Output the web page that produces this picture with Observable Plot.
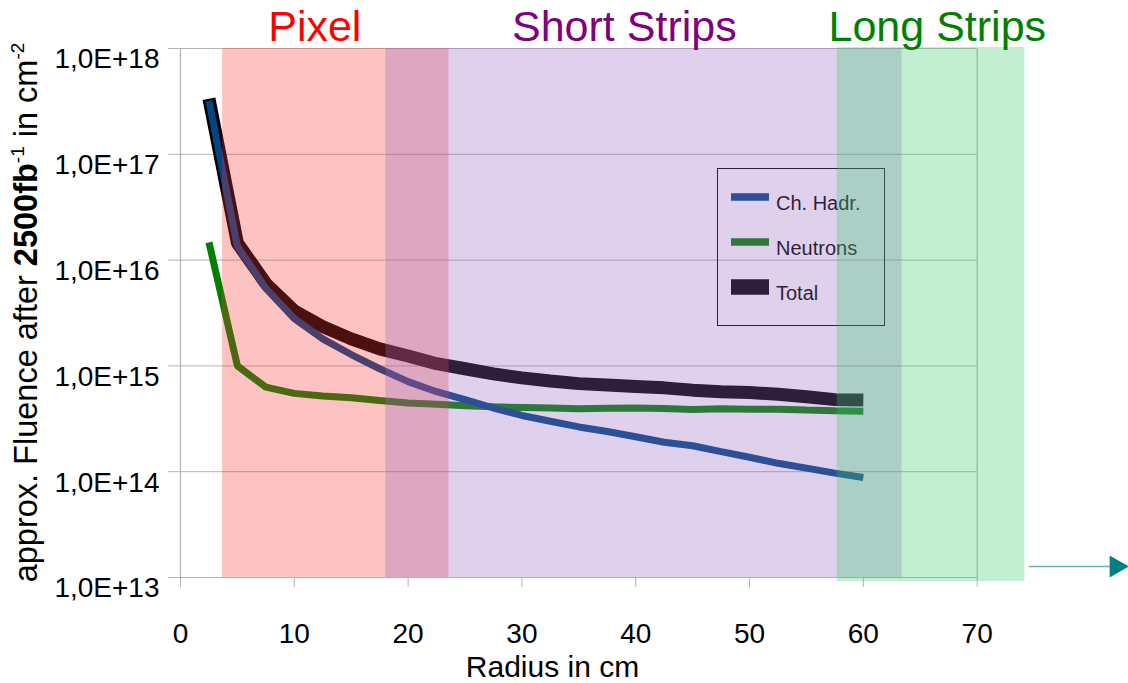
<!DOCTYPE html>
<html>
<head>
<meta charset="utf-8">
<script src="https://cdn.jsdelivr.net/npm/d3@7"></script>
<script src="https://cdn.jsdelivr.net/npm/@observablehq/plot@0.6"></script>
<style>
  html, body { margin: 0; padding: 0; background: #ffffff; }
  #chart { width: 1128px; height: 683px; }
</style>
</head>
<body>
<div id="chart"></div>
<script>
// Radial positions (cm) of the simulated points
const radius = [2.5, 5, 7.5, 10, 12.5, 15, 17.5, 20, 22.5, 25, 27.5, 30,
                32.5, 35, 37.5, 40, 42.5, 45, 47.5, 50, 52.5, 55, 57.5, 60];

// Approximate fluence (cm^-2) after 2500 fb^-1
const chHadr = [3.2e17, 1.35e16, 5.4e15, 2.8e15, 1.8e15, 1.28e15, 9.4e14, 7.1e14,
                5.7e14, 4.8e14, 4.0e14, 3.4e14, 3.0e14, 2.65e14, 2.4e14, 2.14e14,
                1.9e14, 1.76e14, 1.55e14, 1.37e14, 1.2e14, 1.08e14, 9.7e13, 8.8e13];
const neutrons = [1.47e16, 1.0e15, 6.3e14, 5.5e14, 5.2e14, 5.0e14, 4.7e14, 4.45e14,
                  4.35e14, 4.2e14, 4.1e14, 4.05e14, 4.0e14, 3.93e14, 3.97e14, 4.0e14,
                  3.95e14, 3.88e14, 3.93e14, 3.9e14, 3.9e14, 3.82e14, 3.77e14, 3.73e14];
const total = [3.35e17, 1.45e16, 6.0e15, 3.3e15, 2.35e15, 1.8e15, 1.45e15, 1.24e15,
               1.05e15, 9.4e14, 8.4e14, 7.7e14, 7.2e14, 6.8e14, 6.6e14, 6.4e14,
               6.2e14, 5.9e14, 5.7e14, 5.6e14, 5.4e14, 5.1e14, 4.8e14, 4.75e14];

const seriesNames  = ["Ch. Hadr.", "Neutrons", "Total"];
const seriesValues = [chHadr, neutrons, total];
const seriesColors = ["#004586", "#008000", "#000000"];
const seriesWidths = [7, 7, 13];

// Axis ticks
const xTicks = [0, 10, 20, 30, 40, 50, 60, 70];
const yTicks = [1e13, 1e14, 1e15, 1e16, 1e17, 1e18];
const xMax = 70;

// Detector regions (radial extent in cm)
const regionNames  = ["Pixel", "Short Strips", "Long Strips"];
const regionStart  = [3.7, 18.05, 57.7];
const regionEnd    = [23.6, 63.4, 74.2];
const regionLabelX = [11.8, 39.0, 66.5];
const regionFill   = ["rgb(247,53,53)", "rgb(150,103,193)", "rgb(52,198,105)"];
const regionText   = ["#ff0000", "#800080", "#008000"];

// "continues outward" arrow below the long-strip band
const arrowX = [74.6, 81.6];
const arrowHeadX = 82.2;
const arrowY = 1.27e13;

const font = "'Liberation Sans', Arial, sans-serif";

const rowsOf = vals => radius.map((r, i) => ({r, v: vals[i]}));

// Lines: Total underneath, then neutrons, charged hadrons on top
const lineOrder = [2, 1, 0];

const chart = Plot.plot({
  width: 1128,
  height: 683,
  marginLeft: 180,
  marginRight: 0,
  marginTop: 48,
  marginBottom: 106,
  style: {fontFamily: font, background: "#ffffff", overflow: "visible"},
  x: {domain: [0, 83.3]},
  y: {type: "log", domain: [1e13, 1e18]},
  color: {type: "identity"},
  marks: [
    // horizontal grid, extended left to form the y ticks
    Plot.ruleY(yTicks, {x1: 0, x2: xMax, insetLeft: -12, stroke: "#b3b3b3", strokeWidth: 1}),
    Plot.ruleX([0, xMax], {stroke: "#b3b3b3", strokeWidth: 1.2}),
    Plot.axisY(yTicks, {
      tickFormat: d => "1,0E+" + Math.round(Math.log10(d)),
      tickSize: 0, tickPadding: 21, fontSize: 28, dy: 11,
      fill: "#000000", label: null
    }),
    Plot.axisX(xTicks, {
      tickSize: 10, tickPadding: 36, fontSize: 28,
      stroke: "#b3b3b3", fill: "#000000", label: null
    }),
    ...lineOrder.map(k => Plot.line(rowsOf(seriesValues[k]), {
      x: "r", y: "v",
      stroke: seriesColors[k], strokeWidth: seriesWidths[k],
      strokeLinejoin: "miter", strokeLinecap: "butt"
    })),
    ...regionNames.map((name, i) => Plot.rect([name], {
      x1: () => regionStart[i], x2: () => regionEnd[i],
      fill: regionFill[i], fillOpacity: 0.3,
      insetTop: i === 2 ? -1 : 0, insetBottom: i === 2 ? -4 : 0
    })),
    Plot.text(regionNames, {
      x: (d, i) => regionLabelX[i], text: d => d,
      fill: (d, i) => regionText[i],
      frameAnchor: "top", dy: -21, fontSize: 43, lineAnchor: "middle"
    }),
    Plot.text(["Radius in cm"], {
      frameAnchor: "bottom", dx: -102, dy: 89.5, fontSize: 30,
      lineAnchor: "middle", fill: "#000000"
    }),
    Plot.line(arrowX.map(x => ({x, y: arrowY})), {
      x: "x", y: "y", stroke: "#008080", strokeWidth: 1.5, strokeOpacity: 0.6
    }),
    Plot.dot([{x: arrowHeadX, y: arrowY}], {
      x: "x", y: "y", symbol: "triangle", rotate: 90, r: 8.2,
      fill: "#008080", stroke: "none"
    })
  ]
});

document.getElementById("chart").appendChild(chart);

// Legend box sits under the translucent region bands
const bands = chart.querySelector('g[aria-label="rect"]');
const legend = d3.create("svg:g").attr("aria-label", "legend");
legend.append("rect")
  .attr("x", 717.5).attr("y", 168.5).attr("width", 167).attr("height", 157)
  .attr("fill", "none").attr("stroke", "#000000").attr("stroke-width", 1);
const legendY = [197, 242, 287];
const legendSwatch = [7.5, 7.5, 15.5];
seriesNames.forEach((name, i) => {
  legend.append("rect")
    .attr("x", 731).attr("y", legendY[i] - legendSwatch[i] / 2)
    .attr("width", 38).attr("height", legendSwatch[i])
    .attr("fill", seriesColors[i]);
  legend.append("text")
    .attr("x", 776).attr("y", legendY[i] + 13)
    .attr("text-anchor", "start")
    .attr("font-family", font).attr("font-size", 20)
    .attr("fill", "#000000")
    .text(name);
});
chart.insertBefore(legend.node(), bands);

// Rotated y-axis title with bold luminosity and superscripts
const yTitle = d3.select(chart).append("text")
  .attr("transform", "translate(37,312.5) rotate(-90)")
  .attr("text-anchor", "middle")
  .attr("font-family", font).attr("font-size", 32.5)
  .attr("fill", "#000000");
yTitle.append("tspan").text("approx. Fluence after ");
yTitle.append("tspan").attr("font-weight", "bold").text("2500fb");
yTitle.append("tspan").attr("font-size", 19).attr("dy", -13).text("-1");
yTitle.append("tspan").attr("dy", 13).text(" in cm");
yTitle.append("tspan").attr("font-size", 19).attr("dy", -13).text("-2");
</script>
</body>
</html>
